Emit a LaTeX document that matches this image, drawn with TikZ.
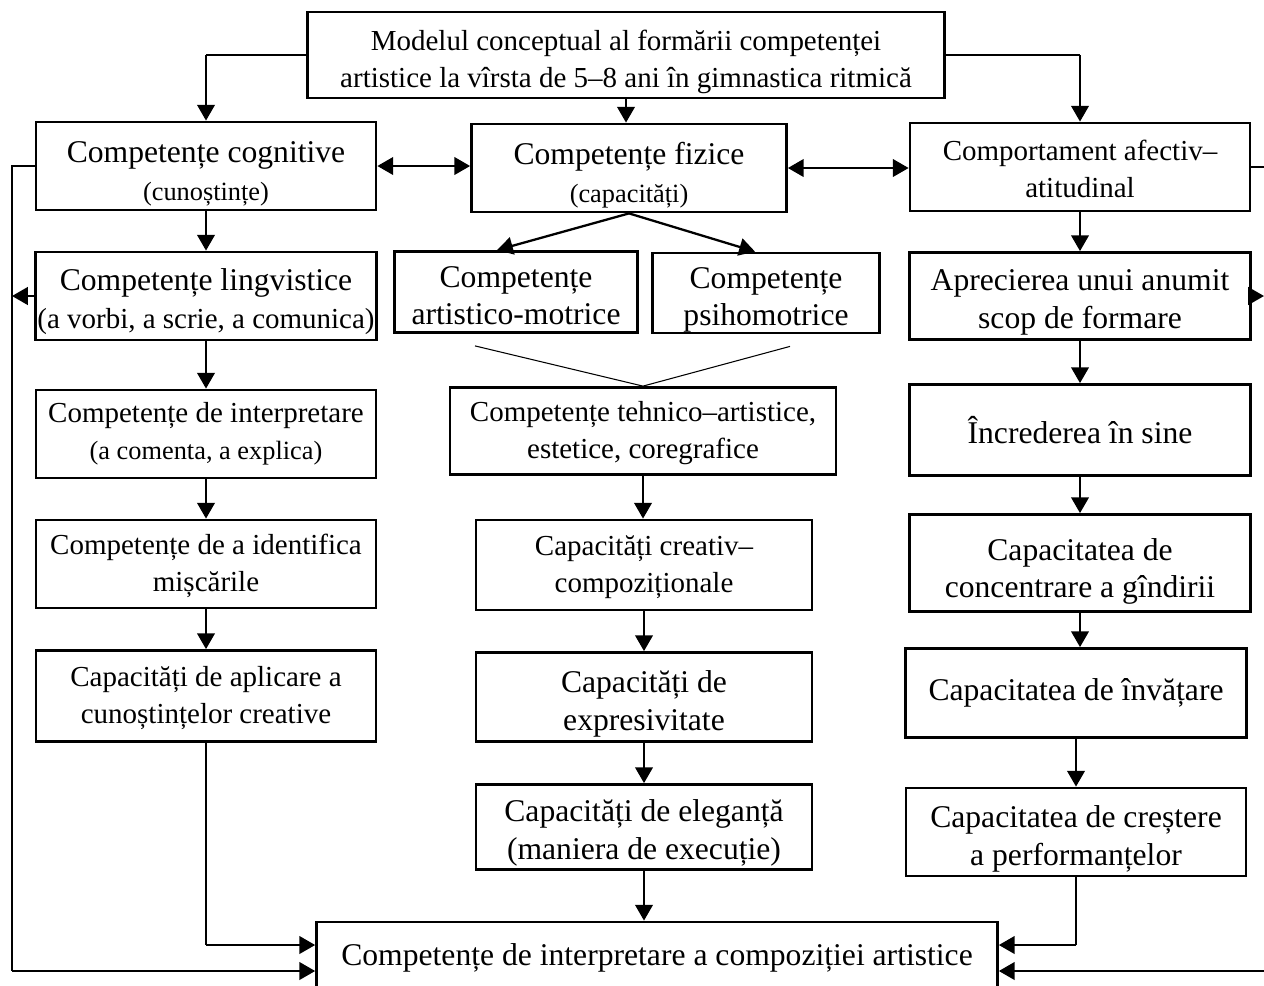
\documentclass[tikz,border=0pt]{standalone}
\usepackage{fontspec}
\setmainfont{Liberation Serif}
\usetikzlibrary{arrows.meta,positioning}
\tikzset{>={Triangle[length=9pt,width=10pt]}}
\tikzset{
  box/.style={draw, line width=1.6pt, align=center, inner sep=1pt},
  big/.style={font=\fontsize{18}{21.5}\selectfont},
  mid/.style={font=\fontsize{16.5}{21}\selectfont},
  link/.style={->, line width=1.3pt},
  thinline/.style={line width=0.6pt}
}
\newcommand{\smalltxt}[1]{{\fontsize{15}{17}\selectfont #1}}
\newcommand{\midtxt}[1]{{\fontsize{16.5}{19}\selectfont #1}}
\newcommand{\topgap}[1]{\rule{0pt}{#1}}

\begin{document}
\begin{tikzpicture}[x=0.02cm, y=-0.02cm]
    \useasboundingbox (0,0) rectangle (1264,985);

    % top
    \node[box, mid, minimum width=12.74cm, minimum height=1.72cm] (top) at (626,55)
        {\topgap{20pt}Modelul conceptual al formării competenței\\artistice la vîrsta de 5–8 ani în gimnastica ritmică};

    % left column
    \node[box, big, minimum width=6.8cm, minimum height=1.76cm] (cog) at (206,166)
        {\topgap{21pt}Competențe cognitive\\\smalltxt{(cunoștințe)}};
    \node[box, big, minimum width=6.8cm, minimum height=1.76cm] (ling) at (206,296)
        {\topgap{19pt}Competențe lingvistice\\\midtxt{(a vorbi, a scrie, a comunica)}};
    \node[box, mid, minimum width=6.8cm, minimum height=1.76cm] (intp) at (206,434)
        {Competențe de interpretare\\\smalltxt{(a comenta, a explica)}};
    \node[box, mid, minimum width=6.8cm, minimum height=1.76cm] (ident) at (206,564)
        {\topgap{14pt}Competențe de a identifica\\mișcările};
    \node[box, mid, minimum width=6.8cm, minimum height=1.82cm] (apl) at (206,696)
        {\topgap{14pt}Capacități de aplicare a\\cunoștințelor creative};

    % middle column
    \node[box, big, minimum width=6.3cm, minimum height=1.76cm] (fiz) at (629,168)
        {\topgap{21pt}Competențe fizice\\\smalltxt{(capacități)}};
    \node[box, big, minimum width=4.86cm, minimum height=1.62cm] (art) at (516,292)
        {\topgap{16pt}Competențe\\artistico-motrice};
    \node[box, big, minimum width=4.54cm, minimum height=1.6cm] (psi) at (766,293)
        {\topgap{16pt}Competențe\\\smash{psihomotrice}};
    \node[box, mid, minimum width=7.72cm, minimum height=1.74cm] (teh) at (643,431)
        {\topgap{14pt}Competențe tehnico–artistice,\\estetice, coregrafice};
    \node[box, mid, minimum width=6.72cm, minimum height=1.8cm] (creat) at (644,565)
        {\topgap{14pt}Capacități creativ–\\compoziționale};
    \node[box, big, minimum width=6.72cm, minimum height=1.78cm] (expr) at (644,697)
        {\topgap{20pt}Capacități de\\expresivitate};
    \node[box, big, minimum width=6.72cm, minimum height=1.7cm] (eleg) at (644,827)
        {\topgap{19pt}Capacități de eleganță\\(maniera de execuție)};

    % right column
    \node[box, mid, minimum width=6.8cm, minimum height=1.76cm] (comp) at (1080,167)
        {\topgap{14pt}Comportament afectiv–\\atitudinal};
    \node[box, big, minimum width=6.82cm, minimum height=1.74cm] (apr) at (1080,296)
        {\topgap{19pt}Aprecierea unui anumit\\scop de formare};
    \node[box, big, minimum width=6.82cm, minimum height=1.82cm] (incr) at (1080,430)
        {Încrederea în sine};
    \node[box, big, minimum width=6.82cm, minimum height=1.94cm] (conc) at (1080,563)
        {\topgap{22pt}Capacitatea de\\concentrare a gîndirii};
    \node[box, big, minimum width=6.82cm, minimum height=1.78cm] (inv) at (1076,693)
        {Capacitatea de învățare};
    \node[box, big, minimum width=6.8cm, minimum height=1.76cm] (cres) at (1076,832)
        {\topgap{20pt}Capacitatea de creștere\\a performanțelor};

    % bottom
    \node[box, big, minimum width=13.62cm, minimum height=1.44cm] (bot) at (657,958)
        {Competențe de interpretare a compoziției artistice};

    \coordinate (lx) at (12,0);
    \coordinate (rx) at (1264,0);
    \coordinate (inL1) at ([yshift=0.26cm]bot.west);
    \coordinate (inL2) at ([yshift=-0.26cm]bot.west);
    \coordinate (inR1) at ([yshift=0.26cm]bot.east);
    \coordinate (inR2) at ([yshift=-0.26cm]bot.east);

    % from the model
    \draw[thinline] (top.west) -- (top.west -| cog.north);
    \draw[link] (top.west -| cog.north) -- (cog.north);
    \draw[thinline] (top.east) -- (top.east -| comp.north);
    \draw[link] (top.east -| comp.north) -- (comp.north);
    \draw[link] (top.south) -- (top.south |- fiz.north);

    \draw[<->, line width=1.3pt] (cog.east) -- (cog.east -| fiz.west);
    \draw[<->, line width=1.3pt] (fiz.east) -- (fiz.east -| comp.west);

    % left column
    \draw[link] (cog.south) -- (cog.south |- ling.north);
    \draw[link] (ling.south) -- (ling.south |- intp.north);
    \draw[link] (intp.south) -- (intp.south |- ident.north);
    \draw[link] (ident.south) -- (ident.south |- apl.north);

    % middle column
    \draw[link] (fiz.south) -- ([xshift=-0.38cm]art.north);
    \draw[link] (fiz.south) -- ([xshift=-0.22cm]psi.north);
    \draw[thinline] ([xshift=-0.82cm, yshift=-0.24cm]art.south) -- (teh.north);
    \draw[thinline] ([xshift=0.48cm, yshift=-0.24cm]psi.south) -- (teh.north);
    \draw[link] (teh.south) -- (teh.south |- creat.north);
    \draw[link] (creat.south) -- (creat.south |- expr.north);
    \draw[link] (expr.south) -- (expr.south |- eleg.north);
    \draw[link] (eleg.south) -- (eleg.south |- bot.north);

    % right column
    \draw[link] (comp.south) -- (comp.south |- apr.north);
    \draw[link] (apr.south) -- (apr.south |- incr.north);
    \draw[link] (incr.south) -- (incr.south |- conc.north);
    \draw[link] (conc.south) -- (conc.south |- inv.north);
    \draw[link] (inv.south) -- (inv.south |- cres.north);

    % side lines into the bottom box
    \draw[thinline] (cog.west) -- (cog.west -| lx) -- (lx |- inL2);
    \draw[link] (lx |- inL2) -- (inL2);
    \draw[link] (ling.west) -- (ling.west -| lx);
    \draw[thinline] (apl.south) -- (apl.south |- inL1);
    \draw[link] (apl.south |- inL1) -- (inL1);

    \draw[thinline] (comp.east) -- (comp.east -| rx);
    \draw[link] (apr.east) -- (apr.east -| rx);
    \draw[link] (rx |- inR2) -- (inR2);
    \draw[thinline] (cres.south) -- (cres.south |- inR1);
    \draw[link] (cres.south |- inR1) -- (inR1);
\end{tikzpicture}
\end{document}
